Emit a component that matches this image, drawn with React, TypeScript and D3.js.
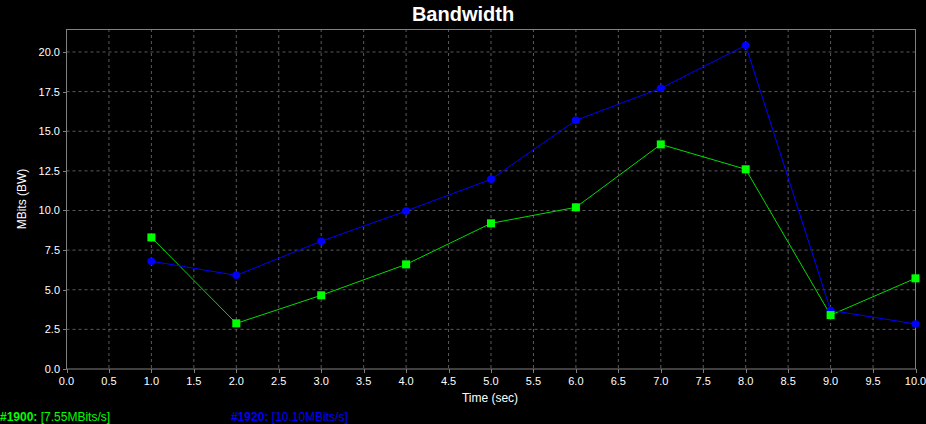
import React from "react";
import * as d3 from "d3";

const xValues = [1, 2, 3, 4, 5, 6, 7, 8, 9, 10];
const series1900 = [8.3, 2.88, 4.65, 6.6, 9.19, 10.2, 14.17, 12.6, 3.4, 5.72];
const series1920 = [6.8, 5.91, 8.06, 9.97, 11.97, 15.69, 17.71, 20.42, 3.7, 2.84];
const xTicks = d3.range(0, 10.01, 0.5);
const yTicks = d3.range(0, 20.01, 2.5);
const legendItems = [
  { id: "#1900:", value: "[7.55MBits/s]", color: "#00ff00", x: 0 },
  { id: "#1920:", value: "[10.10MBits/s]", color: "#0000ff", x: 231 },
];

const W = 926;
const H = 424;
const FONT = "'Liberation Sans', Arial, sans-serif";

export default function App() {
  const x = d3.scaleLinear().domain([0, 10]).range([66.5, 915.5]);
  const y = d3.scaleLinear().domain([0, 21.45]).range([369, 29]);
  const line = d3
    .line<number>()
    .x((_, i) => x(xValues[i]))
    .y((d) => y(d));

  return (
    <svg
      width={W}
      height={H}
      style={{ position: "fixed", left: 0, top: 0, background: "#000" }}
      fontFamily={FONT}
    >
      <rect width={W} height={H} fill="#000" />
      <text x={463} y={21} fill="#fff" fontSize={20} fontWeight="bold" textAnchor="middle">
        Bandwidth
      </text>
      {/* grid */}
      {xTicks.slice(1, -1).map((t) => (
        <line key={"gx" + t} x1={x(t)} x2={x(t)} y1={y.range()[1]} y2={369} stroke="#5a5a5a" strokeDasharray="3,3" />
      ))}
      {yTicks.slice(1).map((t) => (
        <line key={"gy" + t} x1={66.5} x2={915.5} y1={y(t)} y2={y(t)} stroke="#5a5a5a" strokeDasharray="3,3" />
      ))}
      {/* frame */}
      <rect x={66.5} y={29.5} width={849} height={339.5} fill="none" stroke="#808080" strokeWidth={1} />
      {/* y ticks */}
      {yTicks.map((t) => (
        <g key={"yt" + t}>
          <line x1={63} x2={66.5} y1={Math.round(y(t)) + 0.5} y2={Math.round(y(t)) + 0.5} stroke="#808080" />
          <text x={60} y={y(t) + 4} fill="#fff" fontSize={11} textAnchor="end">
            {t.toFixed(1)}
          </text>
        </g>
      ))}
      {/* x ticks */}
      {xTicks.map((t) => (
        <g key={"xt" + t}>
          <line x1={Math.round(x(t)) + 0.5} x2={Math.round(x(t)) + 0.5} y1={369} y2={373} stroke="#808080" />
          <text x={x(t)} y={385} fill="#fff" fontSize={11} textAnchor="middle">
            {t.toFixed(1)}
          </text>
        </g>
      ))}
      <text x={490} y={402} fill="#fff" fontSize={12} textAnchor="middle">
        Time (sec)
      </text>
      <text transform="translate(26,199) rotate(-90)" fill="#fff" fontSize={12} textAnchor="middle">
        MBits (BW)
      </text>
      {/* series */}
      <path d={line(series1900) || ""} fill="none" stroke="#00dd00" strokeWidth={1} />
      <path d={line(series1920) || ""} fill="none" stroke="#0000ff" strokeWidth={1} />
      {series1920.map((v, i) => (
        <ellipse key={"b" + i} cx={x(xValues[i])} cy={y(v)} rx={4} ry={3.7} fill="#0000ff" />
      ))}
      {series1900.map((v, i) => (
        <rect key={"g" + i} x={x(xValues[i]) - 4} y={y(v) - 4} width={8} height={8} fill="#00ff00" />
      ))}
      {/* legend */}
      {legendItems.map((l) => (
        <text key={l.id} x={l.x} y={421} fontSize={12} fill={l.color}>
          <tspan fontWeight="bold">{l.id}</tspan>
          <tspan> {l.value}</tspan>
        </text>
      ))}
    </svg>
  );
}
